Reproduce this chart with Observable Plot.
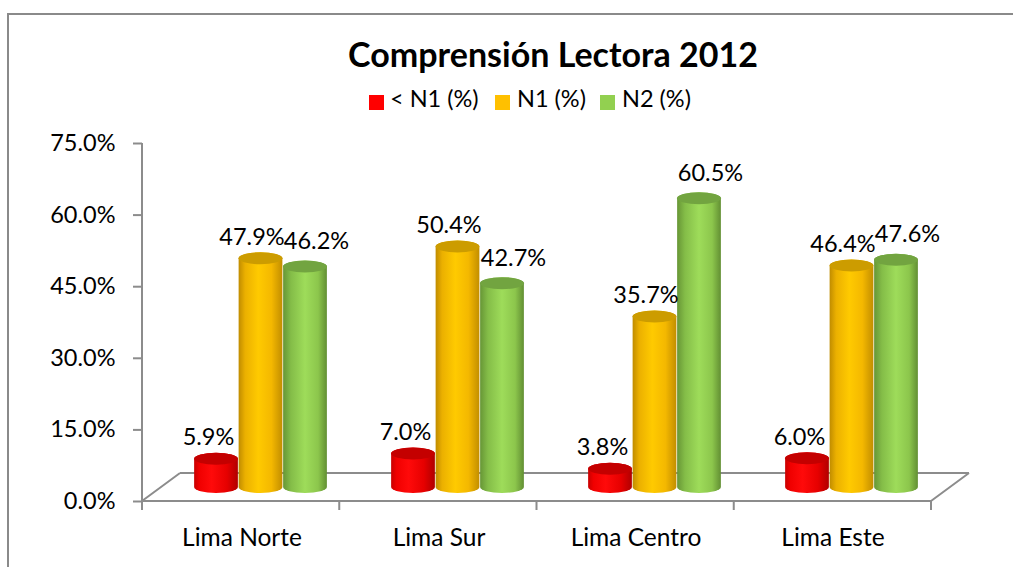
<!DOCTYPE html>
<html>
<head>
<meta charset="utf-8">
<script src="https://cdn.jsdelivr.net/npm/d3@7"></script>
<script src="https://cdn.jsdelivr.net/npm/@observablehq/plot@0.6"></script>
<style>
  html, body { margin: 0; padding: 0; background: #fff; overflow: hidden; }
  body { width: 1013px; height: 567px; position: relative; font-family: Lato, "Noto Sans", sans-serif; }
  #frame { position: absolute; left: 7px; top: 13px; width: 1200px; height: 700px;
           border-top: 2px solid #8a8a8a; border-left: 2px solid #8a8a8a; box-sizing: border-box; }
  #wrap { position: absolute; left: 0; top: 0; width: 1013px; height: 567px; }
  #header { position: relative; height: 120px; width: 1013px; }
  #title { position: absolute; left: 553px; top: 37px; transform: translateX(-50%);
           font-weight: bold; font-size: 34px; line-height: 34px; white-space: nowrap; color: #000; }
  .sw { position: absolute; top: 95px; width: 15px; height: 15px; }
  .lt { position: absolute; top: 87px; font-size: 23.5px; line-height: 23.5px; white-space: nowrap; color: #000; }
  svg { display: block; overflow: visible; }
</style>
</head>
<body>
<div id="frame"></div>
<div id="wrap">
  <div id="header">
    <div id="title"></div>
  </div>
  <div id="chart"></div>
</div>
<script>
// ---- data ----
const title = "Comprensión Lectora 2012";
const categories = ["Lima Norte", "Lima Sur", "Lima Centro", "Lima Este"];
const seriesNames = ["< N1 (%)", "N1 (%)", "N2 (%)"];
const belowN1 = [5.9, 7.0, 3.8, 6.0];
const n1 = [47.9, 50.4, 35.7, 46.4];
const n2 = [46.2, 42.7, 60.5, 47.6];
const yTicks = [0, 15, 30, 45, 60, 75];

// ---- styles ----
const legendColors = ["#ff0000", "#ffc000", "#92d050"];
const capColors = ["#c40000", "#cc9c00", "#72a440"];
const bodyStops = [
  [[0, "#c80000"], [0.12, "#f00000"], [0.4, "#ff0a0a"], [0.75, "#e60000"], [1, "#b00000"]],
  [[0, "#c08c00"], [0.15, "#ebb000"], [0.45, "#ffca00"], [0.75, "#f4b800"], [1, "#c28e00"]],
  [[0, "#679636"], [0.18, "#84bd48"], [0.5, "#9edc5a"], [0.8, "#8cc64c"], [1, "#628f33"]]
];
const seriesValues = [belowN1, n1, n2];

// header (title + legend)
document.getElementById("title").textContent = title;
const header = document.getElementById("header");
const swX = [369, 495, 600], txX = [390, 517, 622];
seriesNames.forEach((name, k) => {
  const s = document.createElement("div");
  s.className = "sw"; s.style.left = swX[k] + "px"; s.style.background = legendColors[k];
  header.appendChild(s);
  const t = document.createElement("div");
  t.className = "lt"; t.style.left = txX[k] + "px"; t.textContent = name;
  header.appendChild(t);
});

// layout
const W = 1013, H = 447, mL = 142, mR = 82, mT = 23, mB = 66;
const bandW = (W - mL - mR) / categories.length;
const cylW = 44, ins = (bandW - cylW) / 2;
const depthX = 38, depthY = -28;        // floor depth
const midX = depthX / 2, midY = depthY / 2;
const spacing = 44.5;
const labelDx = [-8, -9, 11], labelDy = [-28, -28, -32];

const rows = seriesValues.map((vals, k) => categories.map((c, i) => ({cat: c, v: vals[i], s: seriesNames[k]})));

function floor(index, scales, values, dims) {
  const {width, height, marginLeft, marginRight, marginBottom} = dims;
  const x0 = marginLeft, x1 = width - marginRight;
  const y0 = scales.y ? scales.y(0) : height - marginBottom;
  const yTop = scales.y ? scales.y(75) : dims.marginTop;
  const p = d3.path();
  p.moveTo(x0, yTop); p.lineTo(x0, y0 + 9);
  p.moveTo(x0, y0); p.lineTo(x1, y0);
  p.moveTo(x0, y0); p.lineTo(x0 + depthX, y0 + depthY);
  p.moveTo(x1, y0); p.lineTo(x1 + depthX, y0 + depthY);
  p.moveTo(x0 + depthX, y0 + depthY); p.lineTo(x1 + depthX, y0 + depthY);
  const n = categories.length, bw = (x1 - x0) / n;
  for (let i = 1; i <= n; i++) { p.moveTo(x0 + i * bw, y0); p.lineTo(x0 + i * bw, y0 + 9); }
  return d3.create("svg:path").attr("d", p.toString()).attr("fill", "none")
    .attr("stroke", "#8c8c8c").attr("stroke-width", 2).node();
}

const marks = [floor];
rows.forEach((data, k) => {
  const dx = midX + (k - 1) * spacing;
  marks.push(Plot.barY(data, {x: "cat", y1: 0, y2: "v", fill: `url(#body${k})`,
    insetLeft: ins, insetRight: ins, insetTop: -6, insetBottom: -6, rx: cylW / 2, ry: 6, dx, dy: midY}));
  marks.push(Plot.barY(data, {x: "cat", y1: "v", y2: "v", fill: capColors[k],
    insetLeft: ins, insetRight: ins, insetTop: -6, insetBottom: -6, rx: cylW / 2, ry: 6, dx, dy: midY}));
});
rows.forEach((data, k) => {
  const dx = midX + (k - 1) * spacing + labelDx[k];
  marks.push(Plot.text(data, {x: "cat", y: "v", text: d => d.v.toFixed(1) + "%", dx, dy: labelDy[k],
    lineAnchor: "bottom", fill: "#000", fontSize: 23.5}));
});
marks.push(Plot.axisY({ticks: yTicks, tickFormat: d => d.toFixed(1) + "%", tickSize: 9, tickPadding: 18,
  stroke: "#8c8c8c", strokeWidth: 2, fill: "#000", fontSize: 23.5}));
marks.push(Plot.axisX({tickSize: 0, tickPadding: 27, fill: "#000", fontSize: 24.5}));

const chart = Plot.plot({
  width: W, height: H, marginLeft: mL, marginRight: mR, marginTop: mT, marginBottom: mB,
  x: {domain: categories, padding: 0, label: null, axis: null},
  y: {domain: [0, 75], axis: null, label: null},
  style: {fontFamily: "Lato, 'Noto Sans', sans-serif", fontSize: "23px", background: "transparent", color: "#000", overflow: "visible"},
  marks
});

// gradient defs for cylinders
const ns = "http://www.w3.org/2000/svg";
const defs = document.createElementNS(ns, "defs");
bodyStops.forEach((stops, k) => {
  const g = document.createElementNS(ns, "linearGradient");
  g.setAttribute("id", "body" + k);
  g.setAttribute("x1", "0"); g.setAttribute("x2", "1"); g.setAttribute("y1", "0"); g.setAttribute("y2", "0");
  stops.forEach(([o, c]) => {
    const s = document.createElementNS(ns, "stop");
    s.setAttribute("offset", o); s.setAttribute("stop-color", c);
    g.appendChild(s);
  });
  defs.appendChild(g);
});
chart.insertBefore(defs, chart.firstChild);
document.getElementById("chart").appendChild(chart);
</script>
</body>
</html>
